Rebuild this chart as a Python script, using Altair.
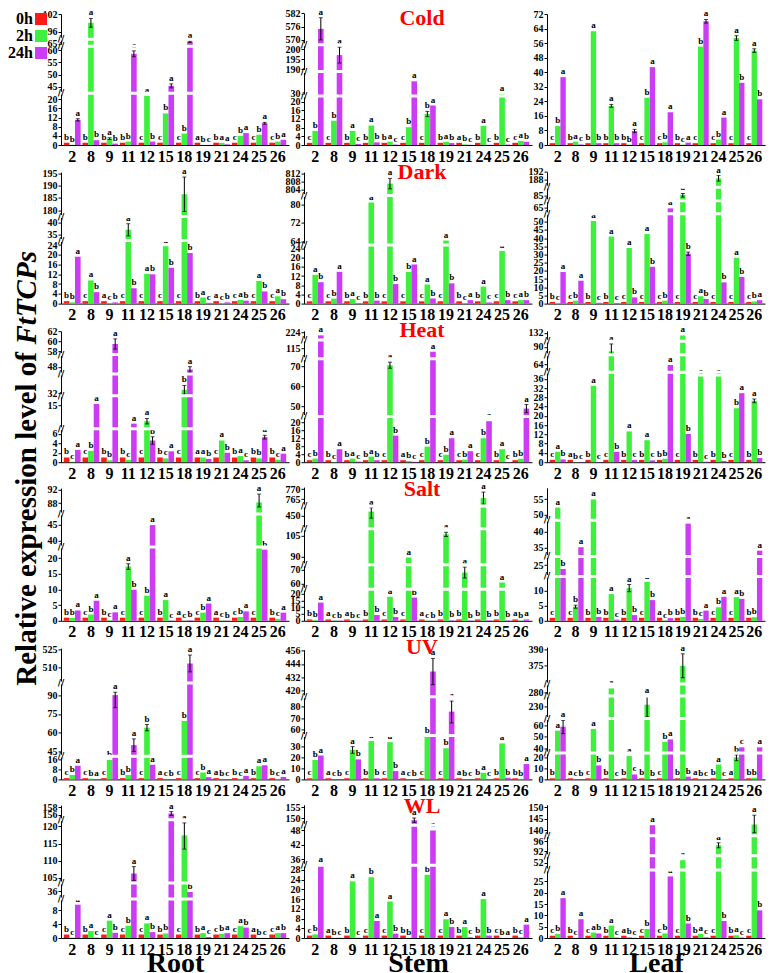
import altair as alt
import pandas as pd

SERIF = "Liberation Serif"
SERIES = ["0h", "2h", "24h"]
COLORS = ["#FF1A1A", "#3CF03C", "#CC3CF5"]
GENES = ["2", "8", "9", "11", "12", "15", "18", "19", "21", "24", "25", "26"]
TISSUES = ["Root", "Stem", "Leaf"]
STRESSES = ["Cold", "Dark", "Heat", "Salt", "UV", "WL"]
CONTROL = [1, 1, 1, 1, 1, 1, 1, 1, 1, 1, 1, 1]
Y_TITLE = ["Relative expression level of", "FtTCPs"]

# ---------------- data: 2h / 24h values, significance letters, tick labels, error bars
COLD_ROOT = dict(h2=[0.1, 99, 2.8, 1.5, 21.5, 13.8, 5.0, 0.05, 0.9, 4.0, 4.5, 1.5],
                 h24=[11, 2.1, 0.6, 58.5, 1.5, 45.4, 67, 0.05, 0.3, 5.2, 9.5, 2.3],
                 letters="bba bab bab bba cab cba cba abc baa cba cba cba",
                 ticks=[0, 4, 8, 12, 16, 20, 45, 50, 55, 60, 65, 96, 102],
                 err={"8:2h": 1.5, "11:24h": 1.2, "15:24h": 0.8, "18:24h": 0.9, "2:24h": 0.5,
                      "9:2h": 0.4, "25:24h": 0.4})
COLD_STEM = dict(h2=[6.5, 11.2, 6.5, 9.0, 1.5, 8.2, 14.3, 1.5, 0.3, 8.8, 26, 1.9],
                 h24=[575, 197, 0.5, 1.2, 0.2, 125, 18.2, 0.9, 0.1, 0.1, 0.2, 1.5],
                 letters="cba cba bac bab bac cba cba bab abc bac bac cab",
                 ticks=[0, 4, 8, 12, 16, 20, 30, 190, 195, 200, 570, 576, 582],
                 err={"2:24h": 5, "8:24h": 4, "18:2h": 1.2})
COLD_LEAF = dict(h2=[10.4, 1.8, 62.5, 21.5, 0.2, 26, 1.5, 0.2, 54.1, 3.0, 58.8, 51.9],
                 h24=[37.3, 0.3, 1.0, 1.0, 7.7, 42.8, 18, 1.3, 68, 15.1, 34.2, 25.1],
                 letters="cba bac bab bab bba cba cba bca cba cba cab cab",
                 ticks=[0, 8, 16, 24, 32, 40, 48, 56, 64, 72],
                 err={"21:24h": 1, "25:2h": 1.3, "26:2h": 1, "11:2h": 0.8, "12:24h": 0.9})

DARK_ROOT = dict(h2=[0.5, 9.5, 0.2, 37.1, 12.2, 23.5, 186.5, 2.5, 0.1, 1.5, 9.3, 3.0],
                 h24=[19.2, 4.7, 0.5, 6.3, 12.0, 14.7, 20.7, 0.3, 0.5, 1.2, 5.0, 1.8],
                 letters="bba cab acb cab cab cab cab bac acb cab cab cab",
                 ticks=[0, 4, 8, 12, 16, 20, 24, 35, 40, 180, 185, 190, 195],
                 err={"11:2h": 2.5, "18:2h": 7})
DARK_STEM = dict(h2=[12.5, 2.2, 2.0, 80.7, 807, 13.8, 8.3, 64.5, 0.2, 7.4, 22.9, 1.5],
                 h24=[9.3, 13.8, 0.1, 1.3, 8.5, 17, 2.2, 8.8, 1.5, 0.5, 1.5, 1.5],
                 letters="cab cba bac bab cab cba cab cab bca bac cab cab",
                 ticks=[0, 4, 8, 12, 16, 20, 24, 64, 72, 80, 804, 808, 812],
                 err={"12:2h": 2.5})
DARK_LEAF = dict(h2=[0.3, 1.8, 50.5, 41, 34, 42.5, 1.8, 86, 4.5, 188.5, 28, 1.3],
                 h24=[19.3, 14, 0.5, 0.3, 3.8, 22.5, 64.5, 30.5, 2.8, 13, 16.3, 2.1],
                 letters="bca cba bac bac cab cab cba cab cab cab cab cba",
                 ticks=[0, 5, 10, 15, 20, 25, 30, 35, 40, 45, 50, 65, 85, 188, 192],
                 err={"19:2h": 2, "24:2h": 1.5, "19:24h": 1})

HEAT_ROOT = dict(h2=[0.1, 2.4, 0.4, 0.5, 9.2, 0.8, 34.2, 1.0, 4.6, 1.3, 0.8, 0.5],
                 h24=[2.6, 15.5, 59.5, 8.3, 4.6, 2.3, 47.1, 0.7, 2.0, 0.4, 5.3, 1.8],
                 letters="bca cba bba bca cab bca cba aab cab bac bba bca",
                 ticks=[0, 2, 4, 6, 15, 32, 48, 58, 60, 62],
                 err={"9:24h": 1, "18:2h": 3, "12:24h": 0.8, "18:24h": 1, "12:2h": 1, "25:24h": 0.4})
HEAT_STEM = dict(h2=[1.8, 0.1, 1.8, 2.8, 70.5, 0.6, 7.8, 3.7, 1.3, 12, 6.5, 1.7],
                 h24=[221, 6.5, 0.3, 1.0, 13.3, 0.2, 113.5, 12, 5.5, 20.5, 0.1, 49],
                 letters="cba bca bac bab cab abc cba cba cba cba bac bba",
                 ticks=[0, 4, 8, 12, 16, 20, 50, 60, 70, 115, 224],
                 err={"12:2h": 1.5, "26:24h": 2})
HEAT_LEAF = dict(h2=[4.5, 0.1, 33, 86.4, 13.3, 9.5, 1.5, 130.8, 37, 37, 23.3, 26.5],
                 h24=[1.2, 0.1, 0.1, 4.5, 1.0, 0.8, 63.6, 12.2, 0.2, 0.5, 29.8, 1.8],
                 letters="cab abc bac cab bac bac bba cab bac bab cba bab",
                 ticks=[0, 4, 8, 12, 16, 20, 24, 28, 32, 36, 64, 90, 132],
                 err={"11:2h": 6, "26:2h": 0.8})

SALT_ROOT = dict(h2=[0.9, 2.0, 0.2, 17.3, 8.0, 6.6, 0.05, 2.6, 0.1, 1.2, 88.2, 0.6],
                 h24=[3.3, 6.4, 2.7, 9.9, 44.9, 0.05, 0.15, 5.5, 0.05, 3.0, 26, 2.6],
                 letters="bba cba bca cab cba bac acb cba acb cba cab bca",
                 ticks=[0, 5, 10, 15, 20, 40, 45, 88, 92],
                 err={"25:2h": 2.5, "11:2h": 0.9})
SALT_STEM = dict(h2=[0.5, 0.1, 0.1, 458, 17.6, 89.5, 0.1, 106, 68, 765.5, 60.7, 0.2],
                 h24=[13.3, 0.1, 0.1, 4.2, 2.8, 17, 0.1, 0.3, 0.2, 0.3, 0.3, 1.0],
                 letters="bba acb abc bab cab cab acb bab bab bab bab aba",
                 ticks=[0, 5, 10, 15, 20, 60, 70, 90, 105, 450, 765, 770],
                 err={"11:2h": 12, "24:2h": 3, "21:2h": 4, "19:2h": 1.5})
SALT_LEAF = dict(h2=[52.3, 4.7, 54.9, 8.9, 10.9, 13, 0.1, 1.3, 0.6, 4.5, 7.9, 1.2],
                 h24=[23.7, 35.1, 1.3, 0.4, 1.9, 6.9, 0.9, 42.6, 3.4, 8.0, 7.3, 34],
                 letters="cab cba bab bac bab cab acb bba bca cba cab bba",
                 ticks=[0, 5, 10, 25, 35, 40, 50, 55],
                 err={"12:2h": 1.2, "8:2h": 0.5})

UV_ROOT = dict(h2=[3.5, 0.6, 15.5, 3.5, 64.1, 0.1, 69.5, 5.5, 0.1, 0.5, 10.5, 0.4],
               h24=[10.9, 0.2, 90, 50.2, 11.7, 0.2, 513.3, 1.8, 0.05, 2.8, 11.3, 2.0],
               letters="cba cba cba bba cba acb cba cba abc bca baa bca",
               ticks=[0, 8, 16, 45, 60, 75, 90, 510, 525],
               err={"9:24h": 10, "11:24h": 5, "18:24h": 7, "12:2h": 2.5})
UV_STEM = dict(h2=[17.5, 0.1, 26.5, 34.5, 33.5, 0.1, 44.6, 28, 0.1, 6, 32.4, 0.5],
               h24=[21.5, 0.1, 18, 1.0, 7.5, 0.1, 437, 75.7, 0.05, 0.2, 1.5, 13.8],
               letters="cba acb cab bab cab acb cba cba abc bac bab bba",
               ticks=[0, 10, 20, 30, 60, 70, 80, 420, 432, 444, 456],
               err={"18:24h": 12, "19:24h": 10, "9:2h": 3})
UV_LEAF = dict(h2=[55.2, 0.1, 56.6, 286.5, 21.2, 232, 45.7, 374.8, 0.1, 13.5, 20, 1.5],
               h24=[58.6, 0.1, 12.7, 0.1, 4.5, 0.1, 47.7, 2.5, 0.05, 0.3, 40.9, 40.9],
               letters="baa acb cab bac bac bab cba bab abc bac abc bba",
               ticks=[0, 10, 20, 40, 50, 60, 230, 280, 375, 390],
               err={"19:2h": 11, "15:2h": 20, "2:24h": 6, "25:2h": 3})

WL_ROOT = dict(h2=[0.1, 2.0, 5.0, 3.5, 4.2, 1.3, 117.4, 1.4, 1.2, 3.4, 0.05, 1.4],
               h24=[9.6, 0.1, 1.5, 106.3, 1.7, 156.3, 35.8, 0.3, 1.4, 3.0, 0.05, 1.4],
               letters="bca bac cab cba cab bba cab bac cba cab abc cab",
               ticks=[0, 4, 8, 36, 105, 110, 115, 120, 156, 158],
               err={"18:2h": 4, "11:24h": 2, "15:24h": 0.5})
WL_STEM = dict(h2=[1.5, 0.1, 23.3, 25, 15, 0.1, 26, 7.7, 4.5, 16, 0.05, 0.3],
               h24=[32.5, 0.1, 0.1, 7, 1.8, 149, 48, 4.5, 0.3, 1.0, 0.05, 5.5],
               letters="cba abc bac cba cab bba cba cab bac bab cba bca",
               ticks=[0, 4, 8, 12, 16, 20, 24, 28, 36, 42, 48, 150, 155],
               err={"15:24h": 1})
WL_LEAF = dict(h2=[1.8, 0.1, 2.4, 5.5, 0.4, 4.0, 2.0, 53, 1.8, 94.4, 1.2, 142.5],
               h24=[17.6, 8.3, 2.0, 0.2, 0.1, 142.2, 27.2, 6.4, 0.3, 7.5, 0.2, 12.2],
               letters="cba bca cab bac abc cba cba cab bac cab bac cab",
               ticks=[0, 5, 10, 15, 20, 25, 52, 92, 96, 140, 145, 150],
               err={"26:2h": 4, "24:2h": 1})

PANELS = [
    [COLD_ROOT, COLD_STEM, COLD_LEAF],
    [DARK_ROOT, DARK_STEM, DARK_LEAF],
    [HEAT_ROOT, HEAT_STEM, HEAT_LEAF],
    [SALT_ROOT, SALT_STEM, SALT_LEAF],
    [UV_ROOT, UV_STEM, UV_LEAF],
    [WL_ROOT, WL_STEM, WL_LEAF],
]

# ---------------- broken-axis layout: (value_lo, value_hi, px_lo, px_hi), px above baseline
AXIS_SEGMENTS = [
    [[(0, 22, 0, 50.3), (43, 61, 53.3, 97.3), (63.5, 67.5, 100, 104), (94, 102, 107.5, 131)],
     [(0, 22, 0, 47.7), (24, 188.5, 50.5, 72), (189.5, 201, 75, 97.8), (569, 582, 102.8, 131.7)],
     [(0, 72, 0, 131)]],
    [[(0, 25, 0, 61), (33.5, 41, 65, 83.3), (179, 195.5, 90.9, 131.5)],
     [(0, 25, 0, 57.5), (63, 83, 59.5, 106.5), (802, 812.5, 109.5, 131.5)],
     [(0, 53, 0, 86.7), (63, 67, 93, 99), (84, 87, 106.5, 110), (187, 192, 122.5, 131.7)]],
    [[(0, 6.8, 0, 32.1), (7, 18, 35, 65), (31, 44, 67.7, 86.7), (46, 52, 89.7, 106.3), (57.7, 62, 109, 131)],
     [(0, 21, 0, 42), (47, 72, 49.6, 100), (112, 118, 107, 121), (218, 225, 123.5, 131.3)],
     [(0, 38, 0, 88), (61, 68, 92, 106), (85, 93, 109, 119), (129, 133, 123, 131.3)]],
    [[(0, 22, 0, 69), (39.5, 46, 78.4, 99.2), (87, 92.5, 114.3, 132.7)],
     [(0, 21, 0, 28.7), (58, 72, 34.6, 53.7), (86, 108, 58.4, 89.2), (432, 465, 95, 113), (762.5, 771, 116.7, 133.7)],
     [(0, 14, 0, 42), (22, 27, 46.7, 61.7), (33, 43, 67, 98.4), (49, 58.6, 102.9, 133)]],
    [[(0, 17, 0, 21.3), (43, 92, 25.2, 86.8), (505, 526, 106, 131.2)],
     [(0, 36, 0, 40), (58, 85, 47.7, 78.3), (418, 457, 87.1, 129.7)],
     [(0, 22, 0, 24.2), (38, 64, 28.7, 59), (220, 240, 62.7, 82.7), (276, 290, 84, 93.3), (360, 392, 97.5, 132.3)]],
    [[(0, 10, 0, 34.7), (35, 38, 43.3, 53.5), (104, 121, 56.6, 115), (155.5, 158.5, 121.4, 132.9)],
     [(0, 29, 0, 70.5), (34.5, 49, 75, 110), (148, 156, 115.6, 133.2)],
     [(0, 29, 0, 65.7), (50, 54, 70.3, 80.3), (91, 97, 84.2, 99.2), (139, 151, 105.3, 133.3)]],
]

WIDTHS = [228, 228, 218]
H = 131
color_scale = alt.Scale(domain=SERIES, range=COLORS)


def decorations():
    """Legend and rotated y title, drawn to the left of the first panel."""
    out = []
    t1 = alt.Chart(pd.DataFrame({"t": [Y_TITLE[0]]})).mark_text(
        font=SERIF, fontSize=29, fontWeight="bold", angle=270, align="right",
        baseline="middle", color="black").encode(
        text="t:N", x=alt.value(-34), y=alt.value(338))
    t2 = alt.Chart(pd.DataFrame({"t": [Y_TITLE[1]]})).mark_text(
        font=SERIF, fontSize=29, fontWeight="bold", fontStyle="italic", angle=270,
        align="left", baseline="middle", color="black").encode(
        text="t:N", x=alt.value(-34), y=alt.value(330.5))
    out += [t1, t2]
    for k, (s, c) in enumerate(zip(SERIES, COLORS)):
        one = pd.DataFrame({"series": [s]})
        yk = 5 + 17 * k
        out.append(alt.Chart(one).mark_square(size=144, opacity=1, color=c).encode(
            x=alt.value(-20), y=alt.value(yk)))
        out.append(alt.Chart(one).mark_text(font=SERIF, fontSize=16, fontWeight="bold",
                                            align="right", baseline="middle",
                                            color="black").encode(
            x=alt.value(-28), y=alt.value(yk), text="series:N"))
    return out


def make_panel(ri, ti):
    d = PANELS[ri][ti]
    segs = AXIS_SEGMENTS[ri][ti]
    W = WIDTHS[ti]
    groups = d["letters"].split()
    rows = []
    for i, g in enumerate(GENES):
        for k, (s, vals) in enumerate(zip(SERIES, [CONTROL, d["h2"], d["h24"]])):
            e = d["err"].get(f"{g}:{s}", 0)
            v = vals[i]
            rows.append(dict(gene=g, series=s, value=v, letter=groups[i][k],
                             lo=v - e, hi=v + e, has_err=e > 0))
    df = pd.DataFrame(rows)
    edf = df[df["has_err"]]

    dom, rng = [], []
    for lo, hi, plo, phi in segs:
        dom += [lo, hi]
        rng += [H - plo, H - phi]
    yscale = alt.Scale(domain=dom, range=rng, nice=False, zero=False)
    yaxis = alt.Axis(values=d["ticks"], title=None, grid=False, labelFont=SERIF,
                     labelFontSize=10, labelFontWeight="bold", labelColor="black",
                     tickSize=3, tickColor="black", domainColor="black",
                     labelPadding=1, labelOverlap=False)
    xkw = dict(labelAngle=0, labelFont=SERIF, labelFontSize=16, labelFontWeight="bold",
               labelColor="black", ticks=False, labelPadding=3, domainColor="black")
    if ri == len(STRESSES) - 1:
        xkw.update(title=TISSUES[ti], titleFont=SERIF, titleFontSize=28,
                   titleFontWeight="bold", titleColor="black", titlePadding=-8)
    else:
        xkw.update(title=None)
    xenc = alt.X("gene:N", sort=GENES, axis=alt.Axis(**xkw),
                 scale=alt.Scale(paddingInner=0.1, paddingOuter=0.15))
    xoff = alt.XOffset("series:N", sort=SERIES, scale=alt.Scale(paddingInner=0, paddingOuter=0))

    base = alt.Chart(df)
    bars = base.mark_bar().encode(
        x=xenc, xOffset=xoff,
        y=alt.Y("value:Q", scale=yscale, axis=yaxis),
        color=alt.Color("series:N", scale=color_scale, legend=None),
    )
    letters = base.mark_text(baseline="bottom", dy=-1, fontSize=9, font=SERIF,
                             fontWeight="bold", color="black").encode(
        x=xenc, xOffset=xoff,
        y=alt.Y("hi:Q", scale=yscale, axis=yaxis),
        text="letter:N",
    )
    layers = [bars]
    if len(edf):
        eb = alt.Chart(edf)
        layers.append(eb.mark_rule(color="black", strokeWidth=1).encode(
            x=xenc, xOffset=xoff, y=alt.Y("lo:Q", scale=yscale, axis=yaxis), y2="hi:Q"))
        layers.append(eb.mark_tick(color="black", thickness=1, size=4, orient="horizontal").encode(
            x=xenc, xOffset=xoff, y=alt.Y("hi:Q", scale=yscale, axis=yaxis)))
        layers.append(eb.mark_tick(color="black", thickness=1, size=4, orient="horizontal").encode(
            x=xenc, xOffset=xoff, y=alt.Y("lo:Q", scale=yscale, axis=yaxis)))
    layers.append(letters)
    mids = [(segs[j][1] + segs[j + 1][0]) / 2 for j in range(len(segs) - 1)]
    if mids:
        bdf = pd.DataFrame({"mid": mids})
        gaps = alt.Chart(bdf).mark_rule(color="white", strokeWidth=3).encode(
            y=alt.Y("mid:Q", scale=yscale, axis=yaxis),
            x=alt.value(-4), x2=alt.value(W))
        marks = alt.Chart(bdf).mark_text(text="//", fontSize=9, font="DejaVu Sans",
                                         fontWeight="bold", color="black").encode(
            y=alt.Y("mid:Q", scale=yscale, axis=yaxis), x=alt.value(0))
        layers += [gaps, marks]
    if ti == 1:
        tdf = pd.DataFrame({"t": [STRESSES[ri]]})
        ttl = alt.Chart(tdf).mark_text(font=SERIF, fontSize=22, fontWeight="bold",
                                       color="#FF0000", baseline="middle").encode(
            text="t:N", x=alt.value(W / 2 + 4), y=alt.value(4 if ri == 0 else -1))
        layers.append(ttl)
    if ri == 0 and ti == 0:
        layers += decorations()
    return alt.layer(*layers).properties(width=W, height=H)


panels = [make_panel(ri, ti) for ri in range(len(STRESSES)) for ti in range(3)]
chart = alt.concat(*panels, columns=3, spacing={"row": 27.6, "column": 15}, bounds="flush").resolve_scale(
    x="independent", y="independent", xOffset="independent"
).configure_view(stroke=None).properties(padding={"top": -1, "left": 0, "right": 0, "bottom": 0})

chart.save("out.html", embed_options={"renderer": "svg", "actions": False})
